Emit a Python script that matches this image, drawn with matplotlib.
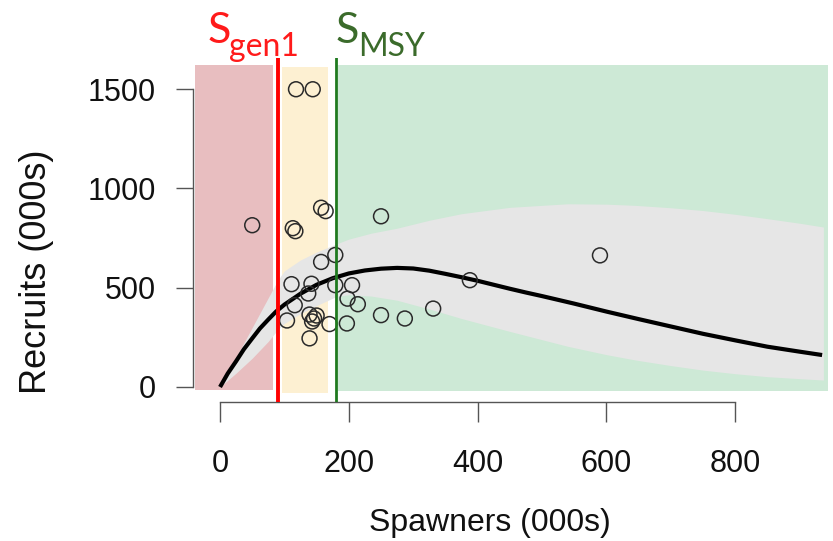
import matplotlib
matplotlib.use("Agg")
import matplotlib.pyplot as plt
from matplotlib.patches import Rectangle

# ---------------- data ----------------
spawners = [50, 118, 144, 157, 164, 113, 117, 250, 157, 179, 111, 142, 137, 179,
            205, 198, 214, 116, 104, 139, 146, 143, 150, 139, 170, 197, 250, 287,
            331, 388, 590]
recruits = [815, 1500, 1500, 903, 886, 800, 785, 860, 630, 665, 518, 520, 471, 513,
            513, 445, 417, 412, 335, 365, 345, 330, 360, 245, 317, 320, 362, 345,
            395, 538, 663]

curve_s = [0, 12, 25, 37, 50, 62, 75, 87, 100, 125, 150, 175, 200, 225, 250, 275,
           300, 325, 350, 375, 400, 425, 450, 475, 500, 525, 550, 575, 600, 650,
           700, 750, 800, 850, 900, 935]
curve_r = [0, 68, 130, 190, 245, 295, 340, 380, 415, 470, 515, 548, 572, 587, 596,
           600, 597, 586, 570, 553, 535, 515, 495, 476, 458, 439, 420, 400, 380,
           342, 305, 268, 235, 203, 178, 161]

band_s = [0, 25, 50, 75, 90, 100, 125, 150, 180, 200, 235, 275, 325, 375, 450, 540,
          600, 645, 700, 750, 800, 850, 900, 937]
band_hi = [0, 150, 300, 450, 540, 585, 640, 680, 720, 745, 775, 800, 840, 873, 905,
           923, 921, 915, 903, 889, 870, 848, 825, 806]
band_lo = [0, 70, 145, 230, 290, 320, 370, 410, 455, 465, 458, 437, 393, 345, 280,
           205, 163, 136, 108, 85, 67, 52, 42, 35]

s_gen1 = 90.5
s_msy = 180

x_ticks = [0, 200, 400, 600, 800]
y_ticks = [0, 500, 1000, 1500]

# ---------------- figure ----------------
W, H = 833, 541
fig = plt.figure(figsize=(W / 100, H / 100), dpi=100)
plt.rcParams['font.family'] = ['Liberation Sans', 'DejaVu Sans']

def fx(px):
    return px / W

def fy(py):
    return 1 - py / H

ax = fig.add_axes([fx(193.3), fy(401.7), fx(833) - fx(193.3), fy(58) - fy(401.7)])
ax.set_xlim(-41.5, 951.9)
ax.set_ylim(-74.1, 1657.4)
ax.patch.set_alpha(0)

# zone rectangles
ax.add_patch(Rectangle((-38.8, -15), 82.3 + 38.8, 1637, facecolor='#e8bec0',
                       edgecolor='none', zorder=0))
ax.add_patch(Rectangle((96.7, -29), 167.2 - 96.7, 1643, facecolor='#fdf0d2',
                       edgecolor='none', zorder=0))
ax.add_patch(Rectangle((183.7, -19), 944 - 183.7, 1641, facecolor='#cde9d6',
                       edgecolor='none', zorder=0))

# uncertainty band
ax.fill_between(band_s, band_lo, band_hi, color='#e6e6e6', lw=0, zorder=1)

# fitted curve
ax.plot(curve_s, curve_r, color='black', lw=3.0, zorder=3,
        solid_capstyle='butt', solid_joinstyle='round')

# observations
ax.scatter(spawners, recruits, s=115, facecolors='none', edgecolors='#2a2a2a',
           linewidths=1.1, zorder=4)

# reference lines
ax.axvline(s_gen1, color='#ff0000', lw=2.8, zorder=5)
ax.axvline(s_msy, color='#1f7a1f', lw=2.0, zorder=5)

# axes styling (R-like)
for sp in ['top', 'right']:
    ax.spines[sp].set_visible(False)
ax.spines['left'].set_bounds(0, 1500)
ax.spines['bottom'].set_bounds(0, 800)
for sp in ['left', 'bottom']:
    ax.spines[sp].set_color('#555555')
    ax.spines[sp].set_linewidth(1.0)
ax.set_xticks(x_ticks)
ax.set_yticks(y_ticks)
ax.set_xticklabels([str(v) for v in x_ticks])
ax.set_yticklabels([str(v) for v in y_ticks])
ax.tick_params(axis='x', direction='out', length=14.4, width=1.0, color='#555555',
               pad=20, labelsize=22, labelcolor='#111111')
ax.tick_params(axis='y', direction='out', length=12, width=1.0, color='#555555',
               pad=15, labelsize=22, labelcolor='#111111')

# axis titles
fig.text(fx(490), fy(523), 'Spawners (000s)', ha='center', va='center',
         fontsize=23, color='#111111')
fig.text(fx(37), fy(272), 'Recruits (000s)', ha='center', va='center',
         rotation=90, fontsize=26, color='#111111')

# reference labels
lab_font = ['Lato', 'DejaVu Sans']
fig.text(fx(208), fy(43), 'S', ha='left', va='baseline', fontsize=31,
         color='#ff1a1a', family=lab_font)
fig.text(fx(229), fy(56), 'gen1', ha='left', va='baseline', fontsize=23,
         color='#ff1a1a', family=lab_font)
fig.text(fx(336), fy(43), 'S', ha='left', va='baseline', fontsize=31,
         color='#3b6b2b', family=lab_font)
fig.text(fx(358), fy(56), 'MSY', ha='left', va='baseline', fontsize=23,
         color='#3b6b2b', family=lab_font)

fig.savefig('out.png', dpi=100)
